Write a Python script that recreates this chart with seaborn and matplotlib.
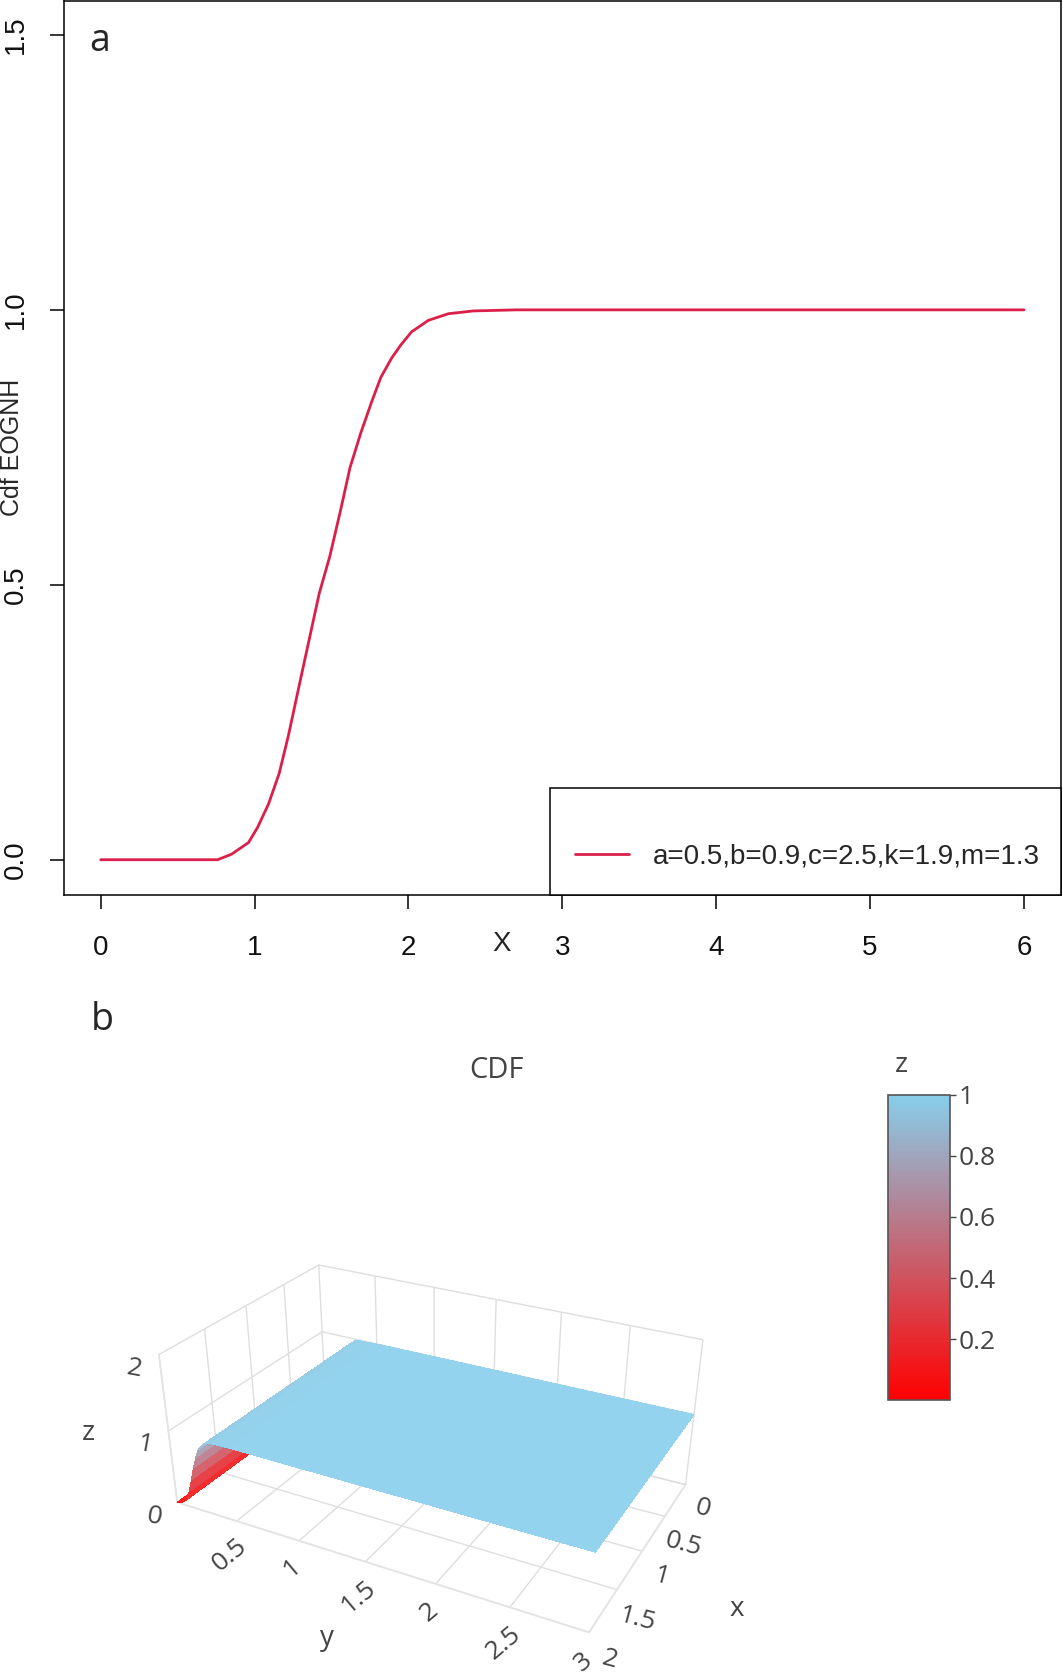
import numpy as np
import pandas as pd
import matplotlib
matplotlib.use("Agg")
import matplotlib.pyplot as plt
import seaborn as sns
from matplotlib.colors import LinearSegmentedColormap, Normalize
from matplotlib.cm import ScalarMappable

# panel a: CDF curve
x_vals = [0.0, 0.5, 0.76, 0.85, 0.96, 1.02, 1.09, 1.16, 1.22, 1.29, 1.36, 1.42,
          1.49, 1.56, 1.62, 1.69, 1.76, 1.82, 1.89, 1.95, 2.02, 2.13, 2.26,
          2.42, 2.7, 3.0, 4.0, 5.0, 6.0]
cdf_vals = [0.0, 0.0, 0.0, 0.010, 0.031, 0.059, 0.101, 0.157, 0.226, 0.317,
            0.407, 0.484, 0.553, 0.637, 0.713, 0.776, 0.832, 0.877, 0.912,
            0.936, 0.960, 0.981, 0.993, 0.998, 1.0, 1.0, 1.0, 1.0, 1.0]
legend_label = "a=0.5,b=0.9,c=2.5,k=1.9,m=1.3"
x_ticks = [0, 1, 2, 3, 4, 5, 6]
y_ticks = [0.0, 0.5, 1.0, 1.5]

# panel b: surface profile along y (same for every x)
surf_x = [0.0, 0.5, 1.0, 1.5, 2.0]
surf_y = [0.0, 0.03, 0.06, 0.09, 0.12, 0.15, 0.18, 0.21, 0.24, 0.27, 0.30,
          0.35, 0.5, 1.0, 1.5, 2.0, 2.5, 3.0]
surf_z = [0.0, 0.01, 0.04, 0.10, 0.22, 0.40, 0.58, 0.74, 0.86, 0.93, 0.97,
          0.99, 1.0, 1.0, 1.0, 1.0, 1.0, 1.0]
cbar_ticks = [0.2, 0.4, 0.6, 0.8, 1.0]
cbar_labels = ["0.2", "0.4", "0.6", "0.8", "1"]

sns.set_theme(style="white")
plt.rcParams["font.family"] = ["Liberation Sans", "DejaVu Sans"]

fig = plt.figure(figsize=(10.63, 16.79), dpi=100)

# ---- panel a ----
ax = fig.add_axes([0.060, 0.467, 0.938, 0.5325])
df = pd.DataFrame({"x": x_vals, "cdf": cdf_vals})
sns.lineplot(data=df, x="x", y="cdf", ax=ax, color="#DC1F48", linewidth=2.0,
             label=legend_label)
ax.set_xlim(-0.24, 6.24)
ax.set_ylim(-0.064, 1.562)
ax.set_xticks(x_ticks)
ax.set_xticklabels([str(t) for t in x_ticks])
ax.set_yticks(y_ticks)
ax.set_yticklabels(["0.0", "0.5", "1.0", "1.5"], rotation=90, va="center")
ax.tick_params(axis="x", pad=19)
ax.tick_params(axis="y", pad=15)
ax.tick_params(axis="both", direction="out", length=10, width=1.1,
               color="black", labelsize=20, labelcolor="#111111",
               bottom=True, left=True)
for s in ax.spines.values():
    s.set_color("black")
    s.set_linewidth(1.1)
ax.set_xlabel("X", fontsize=20)
ax.xaxis.label.set_va("center")
ax.xaxis.set_label_coords(0.439, -0.055)
ax.set_ylabel("Cdf EOGNH", fontsize=18)
ax.yaxis.set_label_coords(-0.040, 0.50)
leg = ax.legend(loc="lower left", bbox_to_anchor=(0.488, 0.0, 0.512, 0.2),
                mode="expand", borderaxespad=0, fancybox=False,
                edgecolor="black", framealpha=1, fontsize=20,
                handlelength=1.93, handletextpad=0.85, title=" ",
                title_fontsize=14, borderpad=0.9)
leg.get_frame().set_linewidth(1.1)

fig.text(100 / 1063, 1 - 41 / 1679, "a", fontsize=27, ha="center",
         va="center", family="Open Sans")
fig.text(102 / 1063, 1 - 1020 / 1679, "b", fontsize=27, ha="center",
         va="center", family="Open Sans")

# ---- panel b ----
cmap = LinearSegmentedColormap.from_list("redsky", ["#FF0000", "#87CEEB"])
norm = Normalize(0, 1)

X, Y = np.meshgrid(surf_x, surf_y)
Z = np.tile(np.array(surf_z)[:, None], (1, len(surf_x)))
face = cmap(norm(Z))
face[..., :3] = face[..., :3] * 0.9 + 0.1

ax3 = fig.add_axes([0.0, -0.063, 0.80, 0.42], projection="3d")
ax3.plot_surface(X, Y, Z, facecolors=face, rstride=1, cstride=1,
                 linewidth=0, antialiased=False, shade=False)
ax3.set_xlim(0, 2)
ax3.set_ylim(0, 3)
ax3.set_zlim(0, 2)
ax3.set_proj_type("persp", focal_length=0.3)
ax3.set_box_aspect((0.62, 1.0, 0.37), zoom=0.76)
ax3.view_init(elev=28, azim=28)
ax3.set_xticks([0, 0.5, 1, 1.5, 2])
ax3.set_xticklabels(["0", "0.5", "1", "1.5", "2"])
ax3.set_yticks([0.5, 1, 1.5, 2, 2.5, 3])
ax3.set_yticklabels(["0.5", "1", "1.5", "2", "2.5", "3"])
ax3.set_zticks([0, 1, 2])
ax3.set_zticklabels(["0", "1", "2"])
for axis in (ax3.xaxis, ax3.yaxis, ax3.zaxis):
    axis.set_pane_color((1, 1, 1, 0))
    axis.line.set_color("#e4e4e4")
    axis._axinfo["grid"].update(color="#dedede", linewidth=1.0)
    axis._axinfo["tick"].update(inward_factor=0, outward_factor=0)
ax3.tick_params(labelsize=19, colors="#444444")
ax3.tick_params(axis="y", labelrotation=40, pad=4)
ax3.tick_params(axis="x", labelrotation=-15)
ax3.tick_params(axis="z", labelrotation=-10)
for lab in ax3.get_xticklabels() + ax3.get_yticklabels() + ax3.get_zticklabels():
    lab.set_family("Open Sans")
ax3.set_xlabel("x", fontsize=20, color="#444444", family="Open Sans", labelpad=35)
ax3.set_ylabel("y", fontsize=20, color="#444444", family="Open Sans", labelpad=45)
ax3.set_zlabel("z", fontsize=20, color="#444444", family="Open Sans", labelpad=18)

fig.text(496 / 1063, 1 - 1071 / 1679, "CDF", fontsize=21, color="#444444",
         ha="center", va="center", family="Open Sans")

cax = fig.add_axes([0.835, 0.166, 0.059, 0.182])
cb = fig.colorbar(ScalarMappable(norm=norm, cmap=cmap), cax=cax)
cb.set_ticks(cbar_ticks)
cb.set_ticklabels(cbar_labels)
cb.outline.set_edgecolor("#555555")
cb.outline.set_linewidth(1.2)
cax.tick_params(length=4, width=1, color="#444444", labelsize=19,
                labelcolor="#444444", pad=2)
for lab in cax.get_yticklabels():
    lab.set_family("Open Sans")
fig.text(895 / 1063, 1 - 1065 / 1679, "z", fontsize=20, color="#444444",
         ha="left", va="center", family="Open Sans")

fig.savefig("out.png", dpi=100)
